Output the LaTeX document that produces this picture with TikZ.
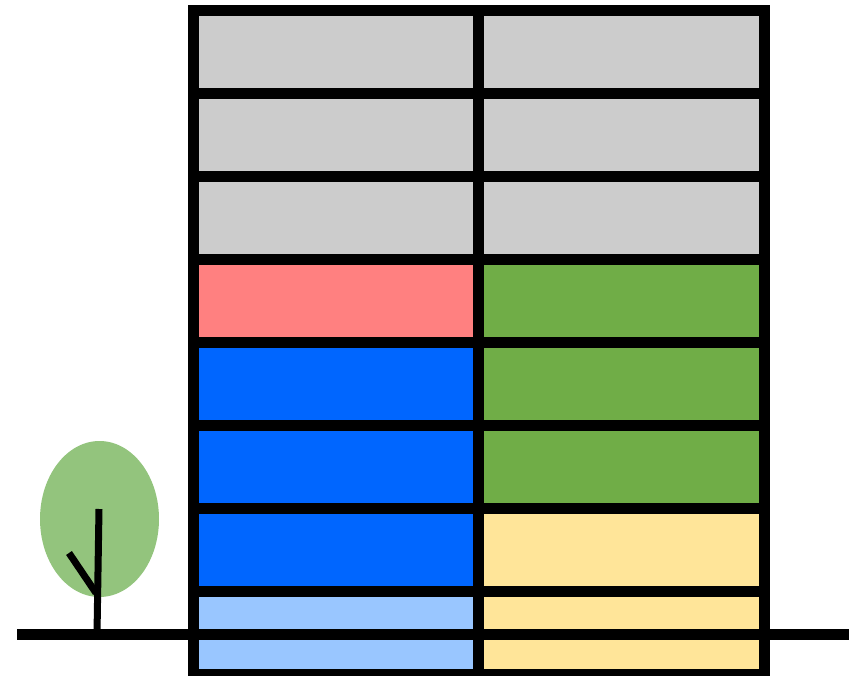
\documentclass[tikz,border=0pt]{standalone}
\usetikzlibrary{calc}
\definecolor{floorgray}{HTML}{CCCCCC}
\definecolor{shopred}{HTML}{FF8080}
\definecolor{officegreen}{HTML}{70AD47}
\definecolor{flatblue}{HTML}{0066FF}
\definecolor{cellarblue}{HTML}{99C6FF}
\definecolor{storeyellow}{HTML}{FFE599}
\definecolor{leafgreen}{HTML}{93C47D}

\begin{document}
\begin{tikzpicture}[
    x=1pt, y=-1pt,
    line width=11pt
]
    \useasboundingbox (0,0) rectangle (849,676);

    % Upper floors (unused)
    \fill[floorgray] (193,10.5) rectangle (764.5,259.5);

    % Left wing
    \fill[shopred] (193,259.5) rectangle (478,342.5);
    \fill[flatblue] (193,342.5) rectangle (478,591.5);
    \fill[cellarblue] (193,591.5) rectangle (478,674.5);

    % Right wing
    \fill[officegreen] (478,259.5) rectangle (764.5,508.5);
    \fill[storeyellow] (478,508.5) rectangle (764.5,674.5);

    % Building frame and floor slabs
    \draw (193,10.5) rectangle (764.5,674.5);
    \draw (478,10.5) -- (478,674.5);
    \foreach \y in {93.5,176.5,259.5,342.5,425.5,508.5,591.5}
        \draw (193,\y) -- (764.5,\y);

    % Tree
    \fill[leafgreen] (99.5,519) ellipse [x radius=59.5, y radius=78];
    \draw[line width=7pt] (99,509) -- (97,634.5);
    \draw[line width=7pt] (69,553) -- (96,593);

    % Ground
    \draw (17,634.5) -- (849,634.5);

\end{tikzpicture}
\end{document}
